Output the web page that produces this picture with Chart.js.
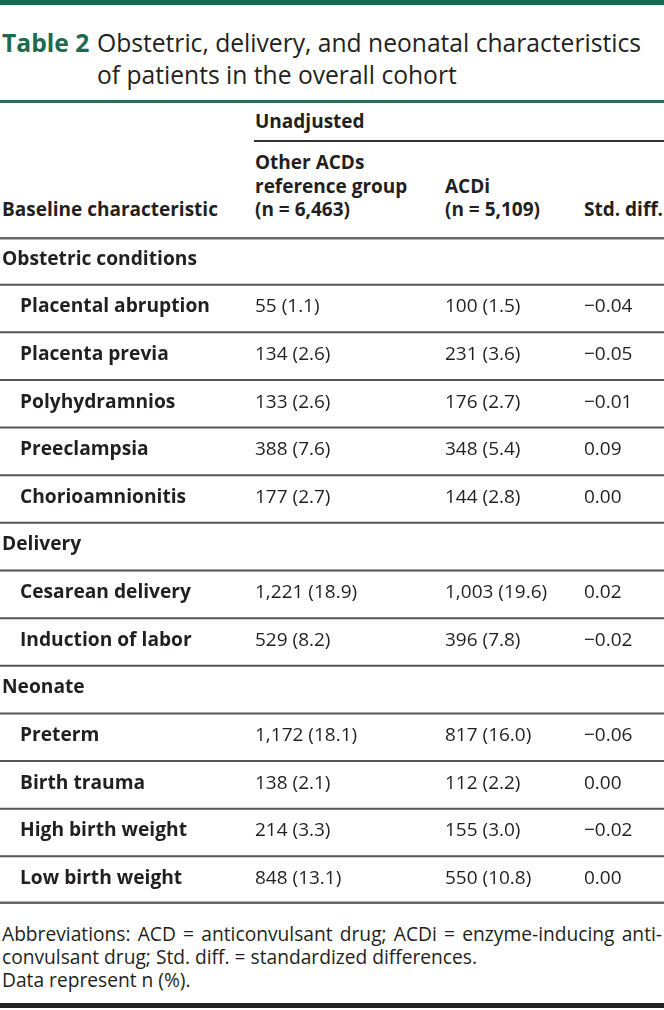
<!DOCTYPE html>
<html>
<head>
<meta charset="utf-8">
<script src="https://cdn.jsdelivr.net/npm/chart.js@4.4.1/dist/chart.umd.min.js"></script>
<style>
  html, body { margin: 0; padding: 0; background: #fff; }
  body { width: 664px; height: 1010px; position: relative; overflow: hidden;
         font-family: "Open Sans", sans-serif; color: #231f20; }
  .abs { position: absolute; white-space: nowrap; }
  .hd { font-size: 19px; line-height: 23.5px; font-weight: 700; }
  #topbar { position: absolute; left: 0; top: 0; width: 664px; height: 5px; background: #176b4d; }
  #greenline { position: absolute; left: 0; top: 100px; width: 664px; height: 3px; background: #2f6b56; }
  #unadjline { position: absolute; left: 254px; top: 140px; width: 410px; height: 2px; background: #333; }
  #bottomline { position: absolute; left: 0; top: 1003px; width: 664px; height: 5px; background: #222; }
  .title { font-size: 25px; line-height: 32px; transform: scaleX(0.985); transform-origin: left center; }
  #title-tag { color: #1c6b4f; font-weight: 700; }
  .foot { font-size: 19.2px; line-height: 23px; }
  #chartBox { position: absolute; left: 0; top: 237px; width: 664px; height: 667px; }
</style>
</head>
<body>
<div id="topbar"></div>

<div class="abs title" style="left:2px; top:26px;"><span id="title-tag">Table 2</span></div>
<div class="abs title" style="left:97px; top:26px;">Obstetric, delivery, and neonatal characteristics</div>
<div class="abs title" style="left:97px; top:58px;">of patients in the overall cohort</div>
<div id="greenline"></div>

<div class="abs hd" style="left:255px; top:110px;">Unadjusted</div>
<div id="unadjline"></div>
<div class="abs hd" style="left:255px; top:151px;">Other ACDs<br>reference group<br>(n = 6,463)</div>
<div class="abs hd" style="left:2px; top:198px;">Baseline characteristic</div>
<div class="abs hd" style="left:445px; top:174.5px;">ACDi<br>(n = 5,109)</div>
<div class="abs hd" style="left:584px; top:198px;">Std. diff.</div>

<div id="chartBox"><canvas id="tableChart" width="664" height="667"></canvas></div>

<div class="abs foot" style="left:2px; top:922px; width:660px; white-space:normal; text-align:justify; text-align-last:justify;">Abbreviations: ACD = anticonvulsant drug; ACDi = enzyme-inducing anti-</div>
<div class="abs foot" style="left:2px; top:945px;">convulsant drug; Std. diff. = standardized differences.</div>
<div class="abs foot" style="left:2px; top:968px;">Data represent n (%).</div>
<div id="bottomline"></div>

<script>
// Lignes du tableau (sections + caractéristiques)
const rowLabels = ['Obstetric conditions', 'Placental abruption', 'Placenta previa', 'Polyhydramnios',
  'Preeclampsia', 'Chorioamnionitis', 'Delivery', 'Cesarean delivery', 'Induction of labor',
  'Neonate', 'Preterm', 'Birth trauma', 'High birth weight', 'Low birth weight'];
const sectionRows = ['Obstetric conditions', 'Delivery', 'Neonate'];

// Valeurs n (%) par groupe, null pour les lignes de section
const otherAcds = [null, '55 (1.1)', '134 (2.6)', '133 (2.6)', '388 (7.6)', '177 (2.7)', null,
  '1,221 (18.9)', '529 (8.2)', null, '1,172 (18.1)', '138 (2.1)', '214 (3.3)', '848 (13.1)'];
const acdi = [null, '100 (1.5)', '231 (3.6)', '176 (2.7)', '348 (5.4)', '144 (2.8)', null,
  '1,003 (19.6)', '396 (7.8)', null, '817 (16.0)', '112 (2.2)', '155 (3.0)', '550 (10.8)'];
const stdDiff = [null, -0.04, -0.05, -0.01, 0.09, 0.00, null, 0.02, -0.02, null, -0.06, 0.00, -0.02, 0.00];

// bord gauche de chaque colonne (en px sur l'axe x)
const columnStarts = [2, 255, 445, 584];

function fmtDiff(v) {
  return (v < 0 ? '\u2212' : '') + Math.abs(v).toFixed(2);
}

const columns = [
  rowLabels,
  otherAcds,
  acdi,
  stdDiff.map(v => v === null ? null : fmtDiff(v))
];

const datasets = columns.map(function(col, c) {
  const pts = [], texts = [];
  col.forEach(function(txt, r) {
    if (txt === null) return;
    pts.push({ x: columnStarts[c], y: rowLabels[r] });
    texts.push(txt);
  });
  return { label: 'col' + c, data: pts, texts: texts, pointRadius: 0 };
});

// Plugin qui dessine les filets et le texte des cellules
const tablePlugin = {
  id: 'tableCells',
  afterDatasetsDraw(chart) {
    const ctx = chart.ctx;
    const y = chart.scales.y;
    const band = y.getPixelForValue(1) - y.getPixelForValue(0);
    const top = y.getPixelForValue(0) - band / 2;

    ctx.save();
    for (let k = 0; k <= rowLabels.length; k++) {
      let yy = top + k * band;
      let w = 2, col = '#555';
      if (k === 0) { w = 2.4; col = '#6b6b6b'; yy += 1.2; }
      if (k === rowLabels.length) { w = 2.4; col = '#666'; yy -= 1.2; }
      ctx.strokeStyle = col;
      ctx.lineWidth = w;
      ctx.beginPath();
      ctx.moveTo(0, yy);
      ctx.lineTo(chart.width, yy);
      ctx.stroke();
    }

    ctx.fillStyle = '#231f20';
    ctx.textBaseline = 'alphabetic';
    chart.data.datasets.forEach(function(ds, di) {
      const meta = chart.getDatasetMeta(di);
      meta.data.forEach(function(pt, j) {
        const txt = ds.texts[j];
        let x = pt.x;
        if (di === 0) {
          const isSection = sectionRows.includes(txt);
          ctx.font = '700 19.2px "Open Sans"';
          if (!isSection) x += 18;
        } else {
          ctx.font = '400 19px "Open Sans"';
        }
        ctx.fillText(txt, x, pt.y + 3.8);
      });
    });
    ctx.restore();
  }
};

const tableChart = new Chart(document.getElementById('tableChart').getContext('2d'), {
  type: 'scatter',
  data: { datasets: datasets },
  options: {
    responsive: false,
    animation: false,
    events: [],
    layout: { padding: 0 },
    plugins: { legend: { display: false }, tooltip: { enabled: false } },
    scales: {
      x: { type: 'linear', min: 0, max: 664, display: false },
      y: { type: 'category', labels: rowLabels, offset: true, display: false }
    }
  },
  plugins: [tablePlugin]
});
</script>
</body>
</html>
